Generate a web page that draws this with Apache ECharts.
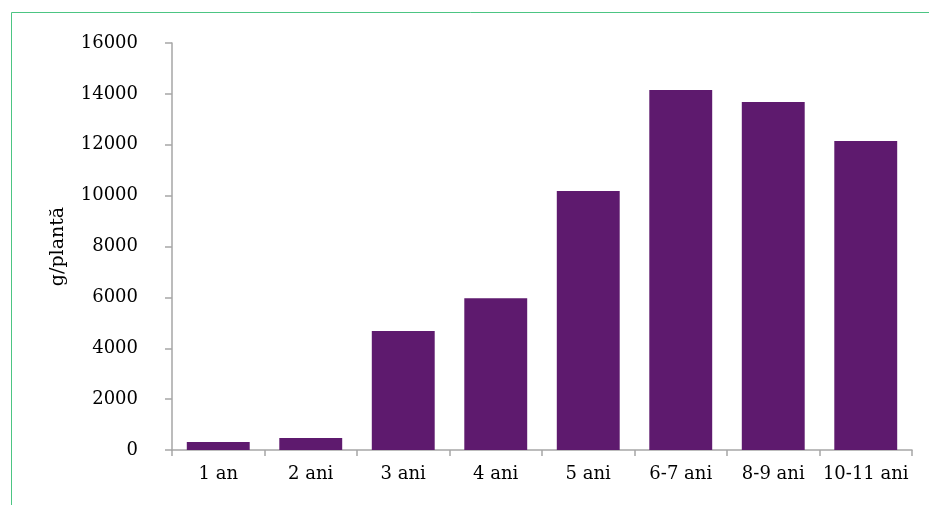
<!DOCTYPE html>
<html>
<head>
<meta charset="utf-8">
<script src="https://cdn.jsdelivr.net/npm/echarts@6/dist/echarts.min.js"></script>
<style>
  html, body { margin: 0; padding: 0; background: #fff; }
  #chart { width: 929px; height: 505px; }
</style>
</head>
<body>
<div id="chart"></div>
<script>
const categories = ["1 an", "2 ani", "3 ani", "4 ani", "5 ani", "6-7 ani", "8-9 ani", "10-11 ani"];
const values = [310, 470, 4680, 5970, 10180, 14150, 13680, 12150];
const yTicks = [0, 2000, 4000, 6000, 8000, 10000, 12000, 14000, 16000];

const chart = echarts.init(document.getElementById("chart"));
const font = "'DejaVu Serif', 'Liberation Serif', serif";
const axisColor = "#a6a6a6";

chart.setOption({
  animation: false,
  textStyle: { fontFamily: font },
  graphic: [
    // green frame, running off the right and bottom edge
    {
      type: "polyline",
      shape: { points: [[940, 12.5], [11.5, 12.5], [11.5, 520]] },
      style: { stroke: "#4cc583", lineWidth: 1, fill: null }
    }
  ],
  grid: { left: 172, right: 17, top: 43, bottom: 55 },
  xAxis: {
    type: "category",
    data: categories,
    axisLine: { lineStyle: { color: axisColor, width: 1.5 } },
    axisTick: { show: true, interval: 0, length: 6, lineStyle: { color: axisColor, width: 1.5 } },
    axisLabel: { color: "#000", fontSize: 18, fontFamily: font, margin: 15, interval: 0, hideOverlap: false }
  },
  yAxis: {
    type: "value",
    min: yTicks[0],
    max: yTicks[yTicks.length - 1],
    interval: 2000,
    name: "g/plantă",
    nameLocation: "middle",
    nameGap: 104,
    nameRotate: 90,
    nameTextStyle: { color: "#000", fontSize: 19, fontFamily: font },
    axisLine: { show: true, lineStyle: { color: axisColor, width: 1.5 } },
    axisTick: { show: true, length: 7, lineStyle: { color: axisColor, width: 1.5 } },
    splitLine: { show: false },
    axisLabel: { color: "#000", fontSize: 18, fontFamily: font, margin: 34, formatter: v => String(v) }
  },
  series: [{
    type: "bar",
    data: values,
    barCategoryGap: "32%",
    itemStyle: { color: "#5e1a6e" }
  }]
});
</script>
</body>
</html>
